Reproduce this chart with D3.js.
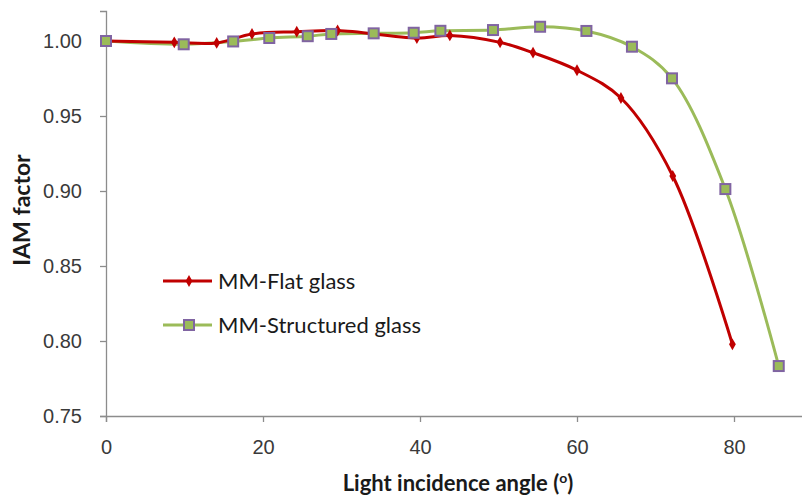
<!DOCTYPE html>
<html>
<head>
<meta charset="utf-8">
<script src="https://cdn.jsdelivr.net/npm/d3@7/dist/d3.min.js"></script>
<style>
    body { margin: 0; background: #fff; }
    svg { display: block; font-family: Lato, "Open Sans", sans-serif; }
</style>
</head>
<body>
<div id="chart"></div>
<script>
// angle (deg) and IAM factor
var flatAngles = [0, 8.7, 14.1, 18.6, 24.3, 29.5, 39.6, 43.8, 50.2, 54.4, 60.0, 65.6, 72.2, 79.8];
var flatIam = [1.000, 0.9991, 0.9987, 1.0047, 1.0062, 1.0070, 1.0020, 1.0037, 0.9991, 0.9922, 0.9805, 0.9620, 0.9100, 0.7978];

var structAngles = [0, 9.9, 16.2, 20.8, 25.7, 28.7, 34.1, 39.2, 42.6, 49.3, 55.3, 61.2, 67.0, 72.1, 78.9, 85.7];
var structIam = [1.000, 0.9978, 0.9997, 1.0020, 1.0032, 1.0047, 1.0051, 1.0055, 1.0068, 1.0073, 1.0095, 1.0067, 0.9962, 0.9751, 0.9013, 0.7833];

var seriesNames = ["MM-Flat glass", "MM-Structured glass"];
var xTicks = [0, 20, 40, 60, 80];
var yTicks = [0.75, 0.80, 0.85, 0.90, 0.95, 1.00];

var width = 802;
var height = 496;

var svg = d3.select("#chart").append("svg")
    .attr("width", width)
    .attr("height", height);

var x = d3.scaleLinear().domain([0, 90]).range([106, 812.5]);
var y = d3.scaleLinear().domain([0.75, 1.02]).range([416, 11]);

var axisColor = "#8c8c8c";

// y axis
var yAxis = svg.append("g")
    .attr("transform", "translate(106,0)")
    .call(d3.axisLeft(y).tickValues(yTicks).tickFormat(d3.format(".2f")).tickSize(6).tickPadding(18));
yAxis.select(".domain").attr("stroke", axisColor).attr("stroke-width", 1.3);
yAxis.selectAll(".tick line").attr("stroke", axisColor).attr("stroke-width", 1.3);
yAxis.selectAll(".tick text")
    .attr("fill", "#3a3a3a")
    .style("font-size", "20px");

// x axis
var xAxis = svg.append("g")
    .attr("transform", "translate(0,416)")
    .call(d3.axisBottom(x).tickValues(xTicks).tickSize(6).tickPadding(18));
xAxis.select(".domain").attr("stroke", axisColor).attr("stroke-width", 1.3);
xAxis.selectAll(".tick line").attr("stroke", axisColor).attr("stroke-width", 1.3);
xAxis.selectAll(".tick text")
    .attr("fill", "#3a3a3a")
    .style("font-size", "20px");

// axis titles
var xTitle = svg.append("text")
    .attr("x", 458)
    .attr("y", 491)
    .attr("text-anchor", "middle")
    .style("font-size", "22px")
    .style("font-weight", "bold")
    .attr("fill", "#1a1a1a")
    .text("Light incidence angle (");
xTitle.append("tspan").attr("dy", -8).style("font-size", "14px").text("o");
xTitle.append("tspan").attr("dy", 8).text(")");

svg.append("text")
    .attr("transform", "translate(30,210) rotate(-90)")
    .attr("text-anchor", "middle")
    .style("font-size", "23px")
    .style("font-weight", "bold")
    .attr("fill", "#1a1a1a")
    .text("IAM factor");

function toPoints(xs, ys) {
    return xs.map(function (a, i) {
        return {x: a, y: ys[i]};
    });
}

var flat = toPoints(flatAngles, flatIam);
var structured = toPoints(structAngles, structIam);

var line = d3.line()
    .x(function (d) { return x(d.x); })
    .y(function (d) { return y(d.y); })
    .curve(d3.curveCatmullRom.alpha(0.5));

var red = "#c00000";
var green = "#9bbb59";
var purple = "#8064a2";

var diamond = d3.symbol().type(d3.symbolDiamond).size(40);

// structured glass (drawn first, flat glass sits on top where they overlap)
svg.append("path")
    .datum(structured)
    .attr("d", line)
    .attr("fill", "none")
    .attr("stroke", green)
    .attr("stroke-width", 3);

svg.append("path")
    .datum(flat)
    .attr("d", line)
    .attr("fill", "none")
    .attr("stroke", red)
    .attr("stroke-width", 3);

svg.append("g").selectAll("path")
    .data(flat)
    .enter().append("path")
    .attr("d", diamond)
    .attr("transform", function (d) { return "translate(" + x(d.x) + "," + y(d.y) + ")"; })
    .attr("fill", red);

svg.append("g").selectAll("rect")
    .data(structured)
    .enter().append("rect")
    .attr("x", function (d) { return x(d.x) - 5; })
    .attr("y", function (d) { return y(d.y) - 5; })
    .attr("width", 10)
    .attr("height", 10)
    .attr("fill", green)
    .attr("stroke", purple)
    .attr("stroke-width", 2);

// legend
var legend = svg.append("g");

legend.append("line")
    .attr("x1", 163).attr("x2", 212)
    .attr("y1", 281).attr("y2", 281)
    .attr("stroke", red).attr("stroke-width", 3);
legend.append("path")
    .attr("d", diamond)
    .attr("transform", "translate(189,281)")
    .attr("fill", red);
legend.append("text")
    .attr("x", 218).attr("y", 289)
    .style("font-size", "22px")
    .attr("fill", "#1a1a1a")
    .text(seriesNames[0]);

legend.append("line")
    .attr("x1", 163).attr("x2", 212)
    .attr("y1", 325).attr("y2", 325)
    .attr("stroke", green).attr("stroke-width", 3);
legend.append("rect")
    .attr("x", 184).attr("y", 320)
    .attr("width", 10).attr("height", 10)
    .attr("fill", green)
    .attr("stroke", purple)
    .attr("stroke-width", 2);
legend.append("text")
    .attr("x", 218).attr("y", 333)
    .style("font-size", "22px")
    .attr("fill", "#1a1a1a")
    .text(seriesNames[1]);
</script>
</body>
</html>
